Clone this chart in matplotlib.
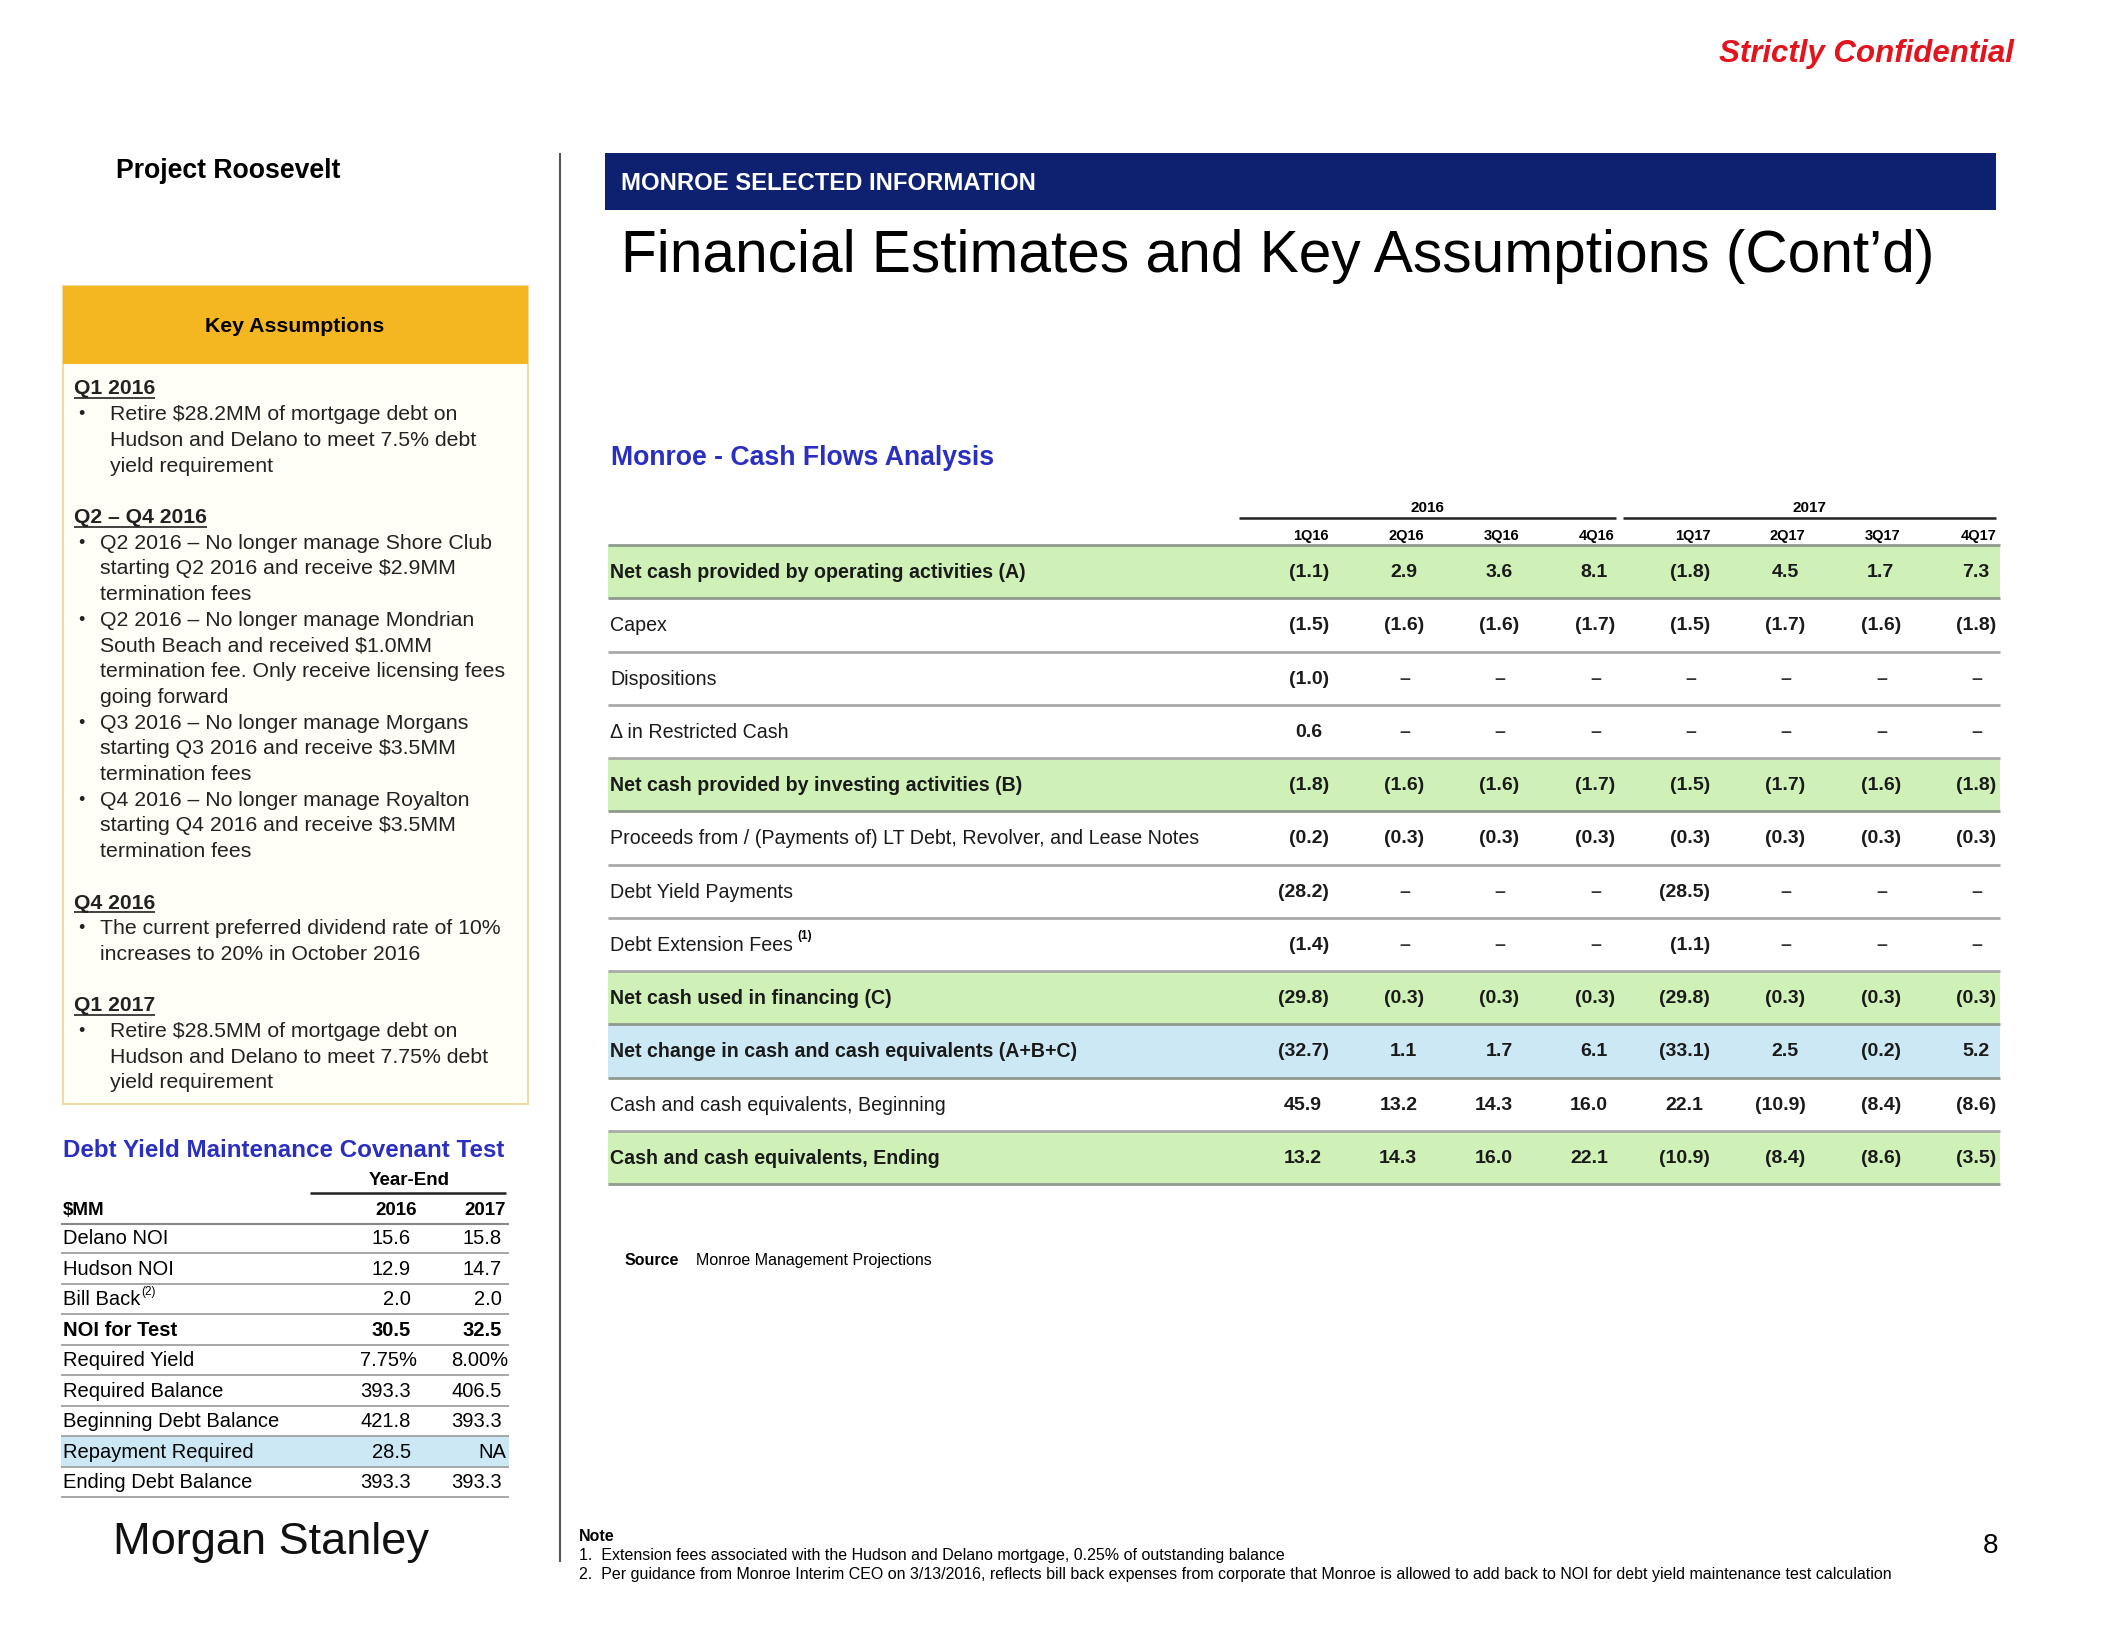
import matplotlib
matplotlib.use('Agg')
import matplotlib.pyplot as plt
from matplotlib.patches import Rectangle

W, H = 2112, 1631
DPI = 100
SANS = ['Liberation Sans', 'DejaVu Sans']

# ---------------- data ----------------
quarters = ['1Q16', '2Q16', '3Q16', '4Q16', '1Q17', '2Q17', '3Q17', '4Q17']
years = ['2016', '2017']

row_labels = [
    'Net cash provided by operating activities (A)',
    'Capex',
    'Dispositions',
    '\u0394 in Restricted Cash',
    'Net cash provided by investing activities (B)',
    'Proceeds from / (Payments of) LT Debt, Revolver, and Lease Notes',
    'Debt Yield Payments',
    'Debt Extension Fees',
    'Net cash used in financing (C)',
    'Net change in cash and cash equivalents (A+B+C)',
    'Cash and cash equivalents, Beginning',
    'Cash and cash equivalents, Ending',
]
op_cash = [-1.1, 2.9, 3.6, 8.1, -1.8, 4.5, 1.7, 7.3]
capex = [-1.5, -1.6, -1.6, -1.7, -1.5, -1.7, -1.6, -1.8]
dispositions = [-1.0, None, None, None, None, None, None, None]
restricted_cash = [0.6, None, None, None, None, None, None, None]
inv_cash = [-1.8, -1.6, -1.6, -1.7, -1.5, -1.7, -1.6, -1.8]
lt_debt = [-0.2, -0.3, -0.3, -0.3, -0.3, -0.3, -0.3, -0.3]
debt_yield_pay = [-28.2, None, None, None, -28.5, None, None, None]
ext_fees = [-1.4, None, None, None, -1.1, None, None, None]
fin_cash = [-29.8, -0.3, -0.3, -0.3, -29.8, -0.3, -0.3, -0.3]
net_change = [-32.7, 1.1, 1.7, 6.1, -33.1, 2.5, -0.2, 5.2]
cash_begin = [45.9, 13.2, 14.3, 16.0, 22.1, -10.9, -8.4, -8.6]
cash_end = [13.2, 14.3, 16.0, 22.1, -10.9, -8.4, -8.6, -3.5]
table_values = [op_cash, capex, dispositions, restricted_cash, inv_cash, lt_debt,
                debt_yield_pay, ext_fees, fin_cash, net_change, cash_begin, cash_end]
row_kind = ['green', '', '', '', 'green', '', '', '', 'green', 'blue', '', 'green']

debt_labels = ['Delano NOI', 'Hudson NOI', 'Bill Back', 'NOI for Test', 'Required Yield',
               'Required Balance', 'Beginning Debt Balance', 'Repayment Required',
               'Ending Debt Balance']
debt_2016 = [15.6, 12.9, 2.0, 30.5, 7.75, 393.3, 421.8, 28.5, 393.3]
debt_2017 = [15.8, 14.7, 2.0, 32.5, 8.00, 406.5, 393.3, None, 393.3]

assumptions = [
    ('Q1 2016', [['Retire \\$28.2MM of mortgage debt on',
                  'Hudson and Delano to meet 7.5% debt',
                  'yield requirement']]),
    ('Q2 \u2013 Q4 2016', [['Q2 2016 \u2013 No longer manage Shore Club',
                            'starting Q2 2016 and receive \\$2.9MM',
                            'termination fees'],
                           ['Q2 2016 \u2013 No longer manage Mondrian',
                            'South Beach and received \\$1.0MM',
                            'termination fee. Only receive licensing fees',
                            'going forward'],
                           ['Q3 2016 \u2013 No longer manage Morgans',
                            'starting Q3 2016 and receive \\$3.5MM',
                            'termination fees'],
                           ['Q4 2016 \u2013 No longer manage Royalton',
                            'starting Q4 2016 and receive \\$3.5MM',
                            'termination fees']]),
    ('Q4 2016', [['The current preferred dividend rate of 10%',
                  'increases to 20% in October 2016']]),
    ('Q1 2017', [['Retire \\$28.5MM of mortgage debt on',
                  'Hudson and Delano to meet 7.75% debt',
                  'yield requirement']]),
]

notes = ['1.  Extension fees associated with the Hudson and Delano mortgage, 0.25% of outstanding balance',
         '2.  Per guidance from Monroe Interim CEO on 3/13/2016, reflects bill back expenses from corporate '
         'that Monroe is allowed to add back to NOI for debt yield maintenance test calculation']

# ---------------- drawing ----------------
NAVY = '#0d2170'
BLUE_T = '#2a2fc0'
ORANGE = '#f4b722'
GREEN = '#cff1b8'
LBLUE = '#cce8f4'
LINE = '#9aa39a'

fig = plt.figure(figsize=(W / DPI, H / DPI), dpi=DPI)
ax = fig.add_axes([0, 0, 1, 1])
ax.set_xlim(0, W)
ax.set_ylim(H, 0)
ax.axis('off')
renderer = fig.canvas.get_renderer()


def txt(x, y, s, size, **kw):
    kw.setdefault('va', 'center')
    kw.setdefault('family', SANS)
    return ax.text(x, y, s, fontsize=size, **kw)


def width_of(t):
    return t.get_window_extent(renderer=renderer).width


def hline(x0, x1, y, c=LINE, lw=1.6):
    ax.plot([x0, x1], [y, y], color=c, lw=lw, solid_capstyle='butt')


def fmt(v):
    if v is None:
        return '\u2013'
    if v < 0:
        return '(%.1f)' % abs(v)
    return '%.1f' % v


# header bits
txt(2014, 54, 'Strictly Confidential', 22.5, ha='right', color='#e2141d',
    fontweight='bold', style='italic')
txt(116, 171, 'Project Roosevelt', 19.2, fontweight='bold')
ax.plot([560, 560], [155, 1562], color='#555555', lw=1.5)

ax.add_patch(Rectangle((605, 154), 1391, 57, color=NAVY, lw=0))
txt(621, 183, 'MONROE SELECTED INFORMATION', 17.2, color='white', fontweight='bold')
txt(621, 257, 'Financial Estimates and Key Assumptions (Cont\u2019d)', 42.2)

# ---- key assumptions panel ----
ax.add_patch(Rectangle((63, 287), 465, 818, facecolor='#fffef7', edgecolor='#ecdca6', lw=1.5))
ax.add_patch(Rectangle((63, 287), 465, 78, color=ORANGE, lw=0))
txt(295, 327, 'Key Assumptions', 15.3, ha='center', fontweight='bold')

lh = 25.7
y = 389
for si, (head, bullets) in enumerate(assumptions):
    t = txt(74, y, head, 15.2, fontweight='bold', color='#222222')
    hline(74, 74 + width_of(t), y + 10, c='#222222', lw=1.2)
    tx = 110 if head.startswith('Q1') else 100
    for b in bullets:
        for li, line in enumerate(b):
            y += lh
            if li == 0:
                txt(81, y, '\u2022', 13, ha='center', color='#222222')
            txt(tx, y, line, 15.3, color='#222222')
    y += 2 * lh

# ---- debt yield table ----
txt(63, 1151, 'Debt Yield Maintenance Covenant Test', 17.4, fontweight='bold', color=BLUE_T)
txt(409, 1181, 'Year-End', 13.5, ha='center', fontweight='bold')
hline(310, 506, 1194, c='#222222', lw=1.8)
txt(63, 1211, '\\$MM', 13.5, fontweight='bold')
txt(417, 1211, years[0], 13.5, ha='right', fontweight='bold')
txt(506, 1211, years[1], 13.5, ha='right', fontweight='bold')
hline(61, 509, 1225, c='#888888', lw=1.5)
dy = 30.5
for i, lab in enumerate(debt_labels):
    yy = 1239 + i * dy
    if lab == 'Repayment Required':
        ax.add_patch(Rectangle((61, yy - dy / 2), 448, dy, color=LBLUE, lw=0, zorder=0))
    fw = 'bold' if lab == 'NOI for Test' else 'normal'
    t = txt(63, yy, lab, 14.5, fontweight=fw)
    if lab == 'Bill Back':
        txt(63 + width_of(t) + 1, yy - 8, '(2)', 8.5)
    for v, xr in ((debt_2016[i], 411), (debt_2017[i], 502)):
        if v is None:
            txt(xr + 4, yy, 'NA', 14.5, ha='right')
        elif lab == 'Required Yield':
            txt(xr + 6, yy, '%.2f%%' % v, 14.5, ha='right')
        else:
            txt(xr, yy, '%.1f' % v, 14.5, ha='right', fontweight=fw)
    hline(61, 509, yy + dy / 2, c='#a0a0a0', lw=1.3)

txt(113, 1543, 'Morgan Stanley', 32.5, color='#111111')

# ---- cash flow table ----
txt(611, 458, 'Monroe - Cash Flows Analysis', 19.2, fontweight='bold', color=BLUE_T)
col_r = [1329 + 95.3 * i for i in range(len(quarters))]
txt((1239 + 1616) / 2, 508, years[0], 11, ha='center', fontweight='bold')
txt((1623 + 1996) / 2, 508, years[1], 11, ha='center', fontweight='bold')
hline(1239, 1616, 519, c='#222222', lw=1.8)
hline(1623, 1996, 519, c='#222222', lw=1.8)
for q, xr in zip(quarters, col_r):
    txt(xr, 536, q, 10.5, ha='right', fontweight='bold')

top = 546
rh = 53.25
hline(608, 2000, top, c='#8e9b8e', lw=2)
for i, lab in enumerate(row_labels):
    y0 = top + i * rh
    yc = y0 + rh / 2
    kind = row_kind[i]
    if kind:
        ax.add_patch(Rectangle((608, y0), 1392, rh, color=GREEN if kind == 'green' else LBLUE,
                               lw=0, zorder=0))
    fw = 'bold' if kind else 'normal'
    t = txt(610, yc, lab, 14.1, fontweight=fw, color='#1a1a1a')
    if lab == 'Debt Extension Fees':
        txt(610 + width_of(t) + 5, yc - 9, '(1)', 8.5, fontweight='bold')
    for v, xr in zip(table_values[i], col_r):
        s = fmt(v)
        if v is None:
            txt(xr - 14, yc, s, 14, ha='right', fontweight='bold', color='#333333')
        elif v < 0:
            txt(xr, yc, s, 14, ha='right', fontweight='bold', color='#1a1a1a')
        else:
            txt(xr - 7, yc, s, 14, ha='right', fontweight='bold', color='#1a1a1a')
    lc = '#8e9b8e' if kind else '#a9a9a9'
    hline(608, 2000, y0 + rh, c=lc, lw=2)

# ---- footer ----
txt(625, 1261, 'Source', 11.5, fontweight='bold')
txt(696, 1261, 'Monroe Management Projections', 11.5)
txt(579, 1537, 'Note', 11.5, fontweight='bold')
for i, n in enumerate(notes):
    txt(579, 1556 + 19 * i, n, 11.5)
txt(1990, 1546, '8', 20, ha='center')

fig.savefig('out.png', dpi=DPI, facecolor='white')
